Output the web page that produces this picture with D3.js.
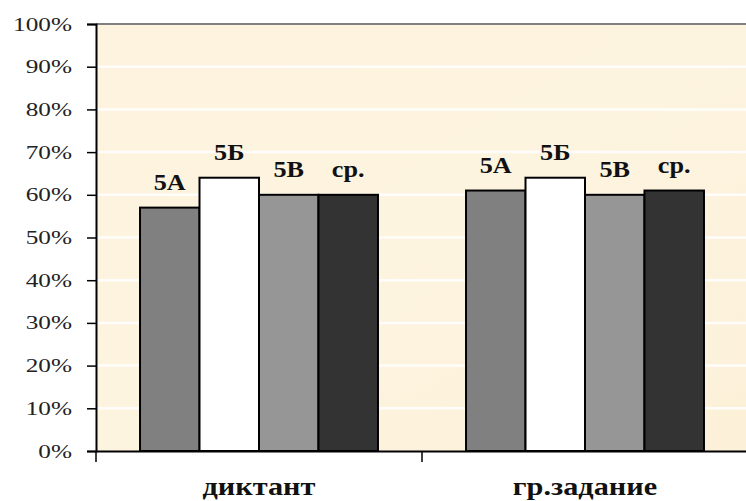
<!DOCTYPE html>
<html><head><meta charset="utf-8">
<script src="https://cdn.jsdelivr.net/npm/d3@7"></script>
<style>
html,body{margin:0;padding:0;background:#fff;overflow:hidden}
svg text{font-family:"Liberation Serif","Times New Roman",Times,serif;}
</style>
</head><body>
<svg id="c" width="746" height="501"></svg>
<script>
const categories = ["диктант", "гр.задание"];
const series = ["5А", "5Б", "5В", "ср."];
const values = [
  [0.57, 0.64, 0.60, 0.60],
  [0.61, 0.64, 0.60, 0.61]
];
const seriesColors = ["#808080", "#ffffff", "#969696", "#333333"];
const yTicks = [0,0.1,0.2,0.3,0.4,0.5,0.6,0.7,0.8,0.9,1.0];

const svg = d3.select("#c");
const m = {left: 96, top: 24, right: 748, bottom: 451};
const x0 = d3.scaleBand().domain(categories).range([m.left, m.right]).paddingInner(0).paddingOuter(0);
const x1 = d3.scaleBand().domain(series).range([0, x0.bandwidth()]).paddingInner(0).paddingOuter(0.74);
const y = d3.scaleLinear().domain([0,1]).range([m.bottom, m.top]);

// horizontally fit texts so that the reference text has the target width
function fit(sel, refIndex, target) {
  const nodes = sel.nodes();
  const w = nodes[refIndex].getComputedTextLength();
  const k = w > 0 ? target / w : 1;
  sel.each(function(){
    const t = d3.select(this);
    const x = +t.attr("x") || 0;
    t.attr("transform", `translate(${x*(1-k)},0) scale(${k},1)`);
  });
}

const defs = svg.append("defs");
const g = defs.append("linearGradient").attr("id","bg").attr("x1","0").attr("y1","0").attr("x2","1").attr("y2","1");
g.append("stop").attr("offset","0").attr("stop-color","#fdf3de");
g.append("stop").attr("offset","0.5").attr("stop-color","#fdf4e0");
g.append("stop").attr("offset","1").attr("stop-color","#fcf0d8");

svg.append("rect").attr("x", m.left).attr("y", m.top).attr("width", m.right-m.left).attr("height", m.bottom-m.top).attr("fill","url(#bg)");

// gridlines
svg.append("g").selectAll("line").data(yTicks.slice(1,-1)).join("line")
  .attr("x1", m.left).attr("x2", m.right).attr("y1", d=>y(d)).attr("y2", d=>y(d))
  .attr("stroke","#ffffff").attr("stroke-width",2.5).attr("opacity",0.9);

// top border
svg.append("line").attr("x1",m.left).attr("x2",m.right).attr("y1",m.top).attr("y2",m.top)
  .attr("stroke","#808080").attr("stroke-width",2);

// bars
const grp = svg.append("g").selectAll("g").data(categories).join("g")
  .attr("transform", d=>`translate(${x0(d)},0)`);
grp.selectAll("rect").data((d,i)=>values[i].map((v,j)=>({s:series[j], v, j}))).join("rect")
  .attr("x", d=>x1(d.s)).attr("width", x1.bandwidth())
  .attr("y", d=>y(d.v)).attr("height", d=>y(0)-y(d.v))
  .attr("fill", d=>seriesColors[d.j]).attr("stroke","#000").attr("stroke-width",2);
const lbl = grp.selectAll("text").data((d,i)=>values[i].map((v,j)=>({s:series[j], v, j}))).join("text")
  .attr("x", d=>x1(d.s)+x1.bandwidth()/2).attr("y", d=>y(d.v)-18)
  .attr("text-anchor","middle")
  .style("font-weight","bold").style("font-size","23px").attr("fill","#111").text(d=>d.s);
fit(lbl, 0, 32);

// y axis
const ya = svg.append("g").attr("transform",`translate(${m.left},0)`)
  .call(d3.axisLeft(y).tickValues(yTicks).tickFormat(d3.format(".0%")).tickSize(9).tickPadding(15));
ya.attr("font-family", null);
ya.select(".domain").attr("stroke","#000").attr("stroke-width",2);
ya.selectAll(".tick line").attr("stroke","#000").attr("stroke-width",1.5);
const yt = ya.selectAll("text").style("font-size","19px").attr("fill","#222");
fit(yt, yTicks.length-1, 59);

// x axis
const xa = svg.append("g").attr("transform",`translate(0,${m.bottom})`)
  .call(d3.axisBottom(x0).tickSize(0).tickFormat(""));
xa.select(".domain").attr("stroke","#000").attr("stroke-width",2);
const ct = svg.append("g").selectAll("text").data(categories).join("text")
  .attr("x", d=>x0(d)+x0.bandwidth()/2).attr("y", 495)
  .attr("text-anchor","middle").style("font-weight","bold")
  .style("font-size","26px").attr("fill","#111").text(d=>d);
fit(ct, 0, 113);
// category separator ticks
svg.append("g").selectAll("line").data(categories.slice(1)).join("line")
  .attr("x1", d=>x0(d)).attr("x2", d=>x0(d)).attr("y1", m.bottom).attr("y2", m.bottom+11)
  .attr("stroke","#000").attr("stroke-width",1.5);
svg.append("line").attr("x1",m.left).attr("x2",m.left).attr("y1",m.bottom).attr("y2",m.bottom+11)
  .attr("stroke","#000").attr("stroke-width",1.5);
</script>
</body></html>
